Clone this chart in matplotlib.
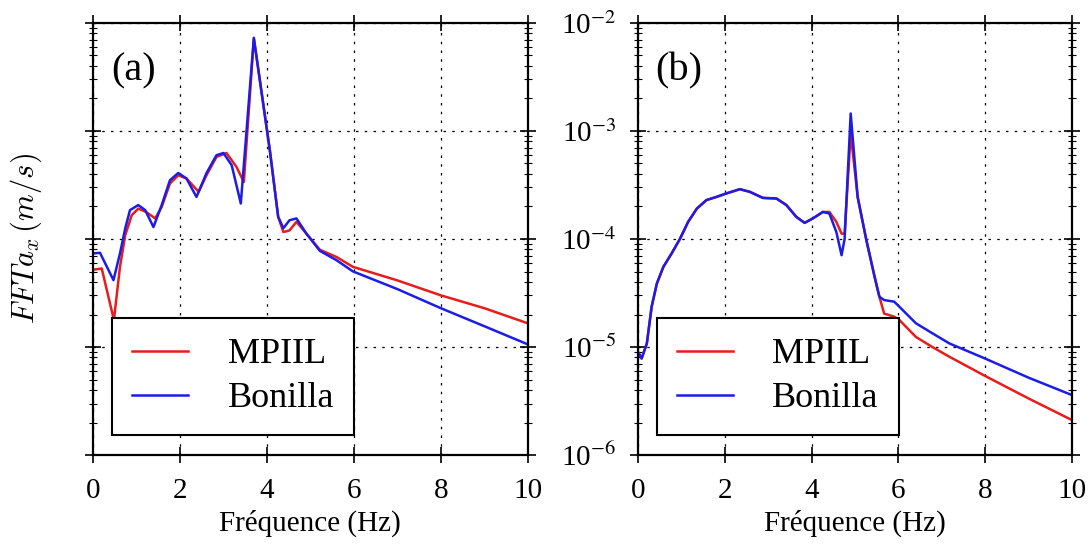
import numpy as np
import matplotlib.pyplot as plt
from matplotlib.ticker import LogLocator, NullFormatter, FixedLocator

plt.rcParams['font.family'] = 'Liberation Serif'
plt.rcParams['mathtext.fontset'] = 'stix'

# panel (a)
fa_mpiil = [0, 0.2, 0.48, 0.62, 0.74, 0.89, 1.04, 1.22, 1.43, 1.58, 1.77, 1.96, 2.15, 2.43,
            2.61, 2.84, 3.07, 3.3, 3.47, 3.7, 4.07, 4.26, 4.38, 4.52, 4.68, 4.91, 5.22, 5.6,
            5.98, 7.0, 8.0, 9.0, 10.0]
a_mpiil = [5.19e-5, 5.33e-5, 1.78e-5, 5.52e-5, 1.08e-4, 1.66e-4, 1.91e-4, 1.78e-4, 1.55e-4,
           1.98e-4, 3.26e-4, 3.89e-4, 3.63e-4, 2.73e-4, 3.89e-4, 5.75e-4, 6.25e-4, 4.65e-4,
           3.37e-4, 7.16e-3, 6.61e-4, 1.60e-4, 1.16e-4, 1.20e-4, 1.44e-4, 1.12e-4, 7.94e-5,
           6.82e-5, 5.52e-5, 4.14e-5, 3.01e-5, 2.29e-5, 1.66e-5]
fa_bonilla = [0, 0.16, 0.47, 0.62, 0.74, 0.85, 1.04, 1.2, 1.39, 1.58, 1.77, 1.96, 2.15, 2.38,
              2.61, 2.84, 3.0, 3.19, 3.4, 3.7, 4.07, 4.26, 4.38, 4.52, 4.68, 4.91, 5.22, 5.6,
              5.98, 7.0, 8.0, 9.0, 10.0]
a_bonilla = [7.35e-5, 7.45e-5, 4.16e-5, 7.35e-5, 1.25e-4, 1.85e-4, 2.06e-4, 1.85e-4, 1.29e-4,
             2.06e-4, 3.50e-4, 4.08e-4, 3.63e-4, 2.45e-4, 4.07e-4, 5.96e-4, 6.25e-4, 4.82e-4,
             2.13e-4, 7.28e-3, 6.46e-4, 1.60e-4, 1.26e-4, 1.49e-4, 1.55e-4, 1.12e-4, 7.76e-5,
             6.37e-5, 5.01e-5, 3.44e-5, 2.29e-5, 1.56e-5, 1.06e-5]

# panel (b)
fb = [0, 0.09, 0.21, 0.32, 0.44, 0.59, 0.78, 0.97, 1.16, 1.36, 1.58, 1.81, 2.04, 2.35, 2.58,
      2.88, 3.19, 3.42, 3.65, 3.84, 4.03, 4.26, 4.41, 4.57, 4.69, 4.76, 4.9, 5.06, 5.26, 5.45,
      5.56, 5.67, 5.9, 6.02, 6.4, 6.78, 7.17, 8.0, 9.0, 10.0]
b_mpiil = [9.12e-6, 7.83e-6, 1.08e-5, 2.36e-5, 3.87e-5, 5.52e-5, 7.35e-5, 1.00e-4, 1.44e-4,
           1.91e-4, 2.29e-4, 2.45e-4, 2.64e-4, 2.89e-4, 2.73e-4, 2.40e-4, 2.37e-4, 2.06e-4,
           1.60e-4, 1.41e-4, 1.55e-4, 1.78e-4, 1.78e-4, 1.44e-4, 1.12e-4, 1.12e-4, 9.5e-4,
           2.45e-4, 9.77e-5, 4.47e-5, 2.92e-5, 2.04e-5, 1.91e-5, 1.78e-5, 1.24e-5, 1.00e-5,
           8.13e-6, 5.38e-6, 3.33e-6, 2.10e-6]
b_bonilla = [9.12e-6, 7.83e-6, 1.08e-5, 2.36e-5, 3.87e-5, 5.52e-5, 7.35e-5, 1.00e-4, 1.44e-4,
             1.91e-4, 2.29e-4, 2.45e-4, 2.64e-4, 2.89e-4, 2.73e-4, 2.40e-4, 2.37e-4, 2.06e-4,
             1.60e-4, 1.41e-4, 1.55e-4, 1.78e-4, 1.72e-4, 1.16e-4, 7.08e-5, 1.00e-4, 1.45e-3,
             2.45e-4, 9.77e-5, 4.47e-5, 2.92e-5, 2.72e-5, 2.63e-5, 2.36e-5, 1.66e-5, 1.34e-5,
             1.08e-5, 7.80e-6, 5.19e-6, 3.58e-6]

ytick_vals = [1e-6, 1e-5, 1e-4, 1e-3, 1e-2]
ytick_labels = ['10$^{-6}$', '10$^{-5}$', '10$^{-4}$', '10$^{-3}$', '10$^{-2}$']

fig = plt.figure(figsize=(10.92, 5.45), dpi=100)
ax1 = fig.add_axes([0.0852, 0.165, 0.398, 0.793])
ax2 = fig.add_axes([0.584, 0.165, 0.398, 0.793])

panels = [(ax1, fa_mpiil, a_mpiil, fa_bonilla, a_bonilla, '(a)'),
          (ax2, fb, b_mpiil, fb, b_bonilla, '(b)')]

for ax, x1, y1, x2, y2, tag in panels:
    ax.plot(x1, y1, color='#e81c1c', lw=1.8, label='MPIIL')
    ax.plot(x2, y2, color='#1c1ce8', lw=1.8, label='Bonilla')
    ax.set_yscale('log')
    ax.set_xlim(0, 10)
    ax.set_ylim(1e-6, 1e-2)
    ax.set_xticks([0, 2, 4, 6, 8, 10])
    ax.yaxis.set_major_locator(FixedLocator(ytick_vals))
    ax.yaxis.set_minor_locator(LogLocator(base=10, subs=np.arange(2, 10), numticks=20))
    ax.yaxis.set_minor_formatter(NullFormatter())
    ax.grid(True, which='major', color='black', linestyle=(0, (2, 5)), linewidth=0.9)
    ax.tick_params(which='major', direction='inout', length=11, width=1.2,
                   top=True, right=True, labelsize=21)
    ax.tick_params(axis='x', which='major', pad=11)
    ax.tick_params(axis='y', which='major', pad=10)
    ax.tick_params(which='minor', direction='inout', length=6, width=0.8, right=True)
    for s in ax.spines.values():
        s.set_linewidth(1.6)
    ax.set_xlabel('Fréquence (Hz)', fontsize=21, labelpad=4)
    ax.text(0.041, 0.89, tag, transform=ax.transAxes, fontsize=29, va='center', ha='left')
    leg = ax.legend(loc='lower left', bbox_to_anchor=(0.044, 0.046), borderaxespad=0,
                    fontsize=26, fancybox=False, edgecolor='black', framealpha=1,
                    handlelength=1.55, handletextpad=1.1, labelspacing=0.3,
                    borderpad=0.55)
    leg.get_frame().set_linewidth(1.5)
    for line in leg.get_lines():
        line.set_linewidth(1.8)

ax1.set_yticklabels([])
ax2.set_yticklabels(ytick_labels)
ax1.set_ylabel('$FFTa_x\\,(m/s)$', fontsize=22, math_fontfamily='cm', labelpad=20)

fig.savefig('out.png', dpi=100)
